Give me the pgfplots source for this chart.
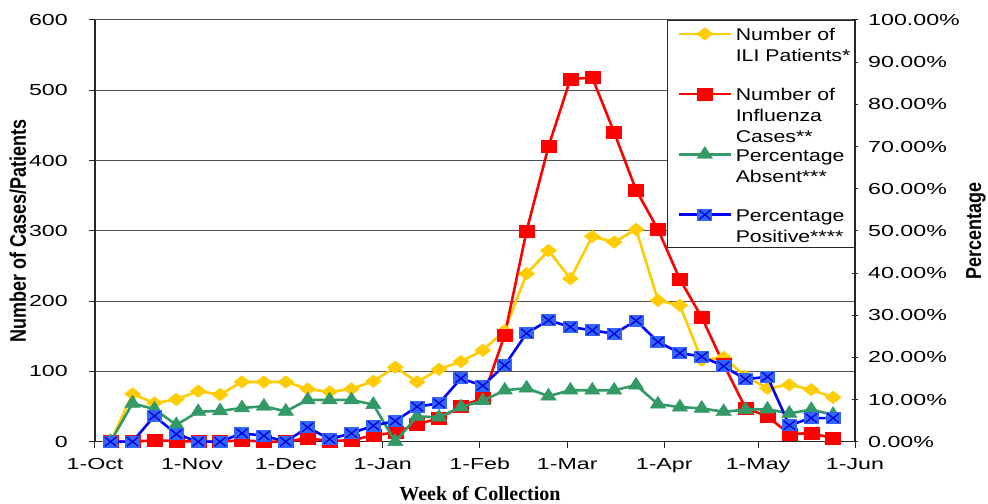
\documentclass[border=0pt]{standalone}
\usepackage{fontspec}
\setmainfont{Liberation Sans}
\newfontfamily\tickchart{Liberation Sans}[FakeStretch=1.45]
\newfontfamily\legchart{Liberation Sans}[FakeStretch=1.25]
\newfontfamily\serifbold{Liberation Serif}
\usepackage{pgfplots}
\usepackage{pgfplotstable}
\pgfplotsset{compat=1.18}

\definecolor{ilicol}{RGB}{255,204,0}
\definecolor{flucol}{RGB}{255,0,0}
\definecolor{abscol}{RGB}{51,153,102}
\definecolor{poscol}{RGB}{0,0,255}
\definecolor{posfill}{RGB}{51,102,255}
\definecolor{posx}{RGB}{0,0,220}
\definecolor{gridcol}{RGB}{80,80,80}

% square marker with a cross, as in the original
\pgfdeclareplotmark{sqx}{%
  \pgfpathrectangle{\pgfqpoint{-\pgfplotmarksize}{-\pgfplotmarksize}}{\pgfqpoint{2\pgfplotmarksize}{2\pgfplotmarksize}}%
  \pgfusepathqfill
  \pgfpathmoveto{\pgfqpoint{-0.75\pgfplotmarksize}{-0.75\pgfplotmarksize}}%
  \pgfpathlineto{\pgfqpoint{0.75\pgfplotmarksize}{0.75\pgfplotmarksize}}%
  \pgfpathmoveto{\pgfqpoint{-0.75\pgfplotmarksize}{0.75\pgfplotmarksize}}%
  \pgfpathlineto{\pgfqpoint{0.75\pgfplotmarksize}{-0.75\pgfplotmarksize}}%
  \pgfusepathqstroke
}

\newcommand\tickfont{\tickchart\fontsize{16bp}{19bp}\selectfont}
\newcommand\legfont{\legchart\fontsize{17bp}{21bp}\selectfont}
\newcommand\legtext[1]{\raisebox{0pt}[\height][0pt]{\begin{tabular}[t]{@{}l@{}}#1\end{tabular}}}

\pgfplotsset{
  legdepth/.initial=47bp,
  ilistyle/.style={color=ilicol, line width=2.6bp, mark=diamond*,
    mark size=6.3bp, mark options={solid, line width=0.4bp, xscale=1.7}},
  flustyle/.style={color=flucol, line width=2.6bp, mark=square*,
    mark size=6bp, mark options={solid, line width=0.4bp, xscale=1.25}},
  absstyle/.style={color=abscol, line width=2.6bp, mark=triangle*,
    mark size=8bp, mark options={solid, line width=0.4bp, xscale=1.12}},
  posstyle/.style={color=poscol, line width=2.6bp, mark=sqx,
    mark size=6bp, mark options={solid, fill=posfill, draw=posx, line width=1.3bp, xscale=1.25}},
  common/.style={
    scale only axis, width=760bp, height=421.7bp,
    xmin=0, xmax=243, clip=false,
    /pgf/number format/assume math mode=true,
    ticklabel style={font=\tickfont, inner sep=0pt},
    axis line style={draw=black!85, line width=1.2bp},
    major tick length=6bp,
    every tick/.style={draw=black!85, line width=1bp},
  },
}

% week (days after 1 Oct), ILI patients, influenza cases, % absent, % positive
\pgfplotstableread{
day ili flu absent positive
5   0   0   0    0
12  68  0   9.1  0
19  55  2   7.7  6.1
26  60  1   4.0  1.8
33  72  0   7.1  0
40  67  0   7.3  0
47  85  2   8.0  2.0
54  85  0   8.4  1.4
61  85  0   7.2  0
68  75  5   9.9  3.4
75  71  1   9.9  0.6
82  75  2   9.9  2.0
89  86  9   8.8  3.8
96  106 13  0    4.9
103 85  25  6.0  8.3
110 103 33  5.8  9.1
117 114 50  8.2  15.0
124 130 62  9.7  13.3
131 158 152 12.2 18.1
138 239 300 12.7 25.7
145 272 420 10.8 28.8
152 232 516 12.2 27.2
159 292 518 12.2 26.4
166 284 440 12.2 25.6
173 302 358 13.4 28.7
180 201 302 8.9  23.7
187 194 231 8.2  21.0
194 116 177 7.9  20.2
201 120 110 7.1  17.9
208 93  48  7.6  14.8
215 76  36  7.7  15.4
222 81  11  6.7  3.9
229 74  12  7.6  5.6
236 63  5   6.4  5.6
}\flu

\begin{document}
\begin{tikzpicture}
\begin{axis}[common, name=main,
  ymin=0, ymax=600,
  axis x line*=bottom, axis y line*=left,
  xtick={0,31,61,92,123,151,182,212,243},
  xticklabels={1-Oct,1-Nov,1-Dec,1-Jan,1-Feb,1-Mar,1-Apr,1-May,1-Jun},
  xtick align=outside,
  xticklabel style={anchor=base, yshift=-22bp},
  ytick={0,100,...,600},
  ytick align=outside,
  yticklabel style={anchor=east, xshift=-21bp},
  ymajorgrids, grid style={draw=gridcol, line width=1bp},
  xlabel={\serifbold\bfseries\fontsize{20bp}{24bp}\selectfont Week of Collection},
  every axis x label/.style={at={(rel axis cs:0.5,0)}, xshift=5bp, yshift=-58.5bp, anchor=base},
  ylabel={\bfseries\fontsize{18bp}{21bp}\selectfont Number of Cases/Patients},
  every axis y label/.style={at={(rel axis cs:0,0.5)}, xshift=-77bp, rotate=90, yscale=1.25, anchor=center},
]
\addplot[ilistyle] table[x=day, y=ili] {\flu};
\addplot[flustyle] table[x=day, y=flu] {\flu};
\end{axis}

\begin{axis}[common,
  ymin=0, ymax=100,
  axis x line=none, axis y line*=right,
  ytick={0,10,...,100},
  ytick align=center,
  yticklabel={\pgfmathprintnumber[fixed, fixed zerofill, precision=2]{\tick}\%},
  yticklabel style={anchor=west, xshift=10bp},
  ylabel={\bfseries\fontsize{18bp}{21bp}\selectfont Percentage},
  every axis y label/.style={at={(rel axis cs:1,0.5)}, xshift=121bp, rotate=90, yscale=1.2, anchor=center, inner sep=0pt},
  legend cell align=left,
  legend image code/.code={%
    \path[draw=none, fill=none] (-7bp,13.3bp) rectangle (57bp,-\pgfkeysvalueof{/pgfplots/legdepth});
    \draw[mark repeat=2, mark phase=2] plot coordinates {(0bp,0bp) (26bp,0bp) (52bp,0bp)};},
  legend style={at={(rel axis cs:1,1)}, anchor=north east, font=\legfont,
    draw=black!85, line width=1.2bp, fill=white,
    inner xsep=4bp, inner ysep=0bp, row sep=0bp,
    nodes={inner xsep=0bp, inner ysep=2bp}},
]
\addlegendimage{ilistyle}
\addlegendentry{\legtext{Number of\\ILI Patients*}}
\addlegendimage{flustyle}
\addlegendentry{\legtext{Number of\\Influenza\\Cases**}}
\addplot[absstyle] table[x=day, y=absent] {\flu};
\addlegendentry{\legtext{Percentage\\Absent***}}
\addplot[posstyle, legdepth=33bp] table[x=day, y=positive] {\flu};
\addlegendentry{\legtext{Percentage\\Positive****}}
\end{axis}

\pgfresetboundingbox
\path[use as bounding box] ([shift={(-95bp,-62.3bp)}]main.south west) rectangle ([shift={(133bp,20bp)}]main.north east);
\end{tikzpicture}
\end{document}
